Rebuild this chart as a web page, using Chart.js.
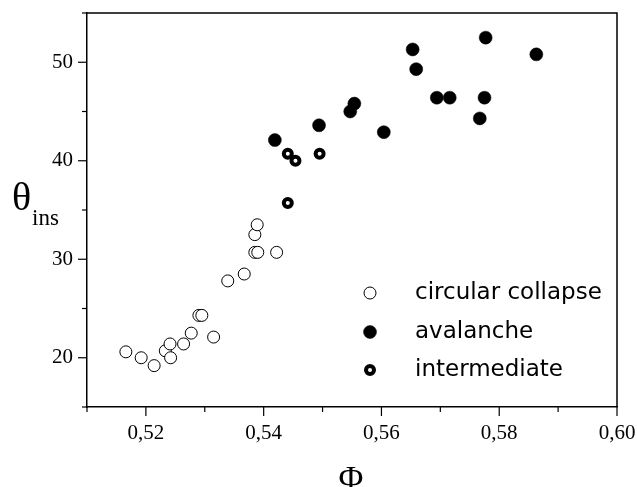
<!DOCTYPE html>
<html>
<head>
<meta charset="utf-8">
<script src="https://cdn.jsdelivr.net/npm/chart.js@4.4.1/dist/chart.umd.min.js"></script>
<style>
  html, body { margin: 0; padding: 0; background: #fff; }
  #wrap { width: 637px; height: 487px; }
</style>
</head>
<body>
<div id="wrap"><canvas id="chart" width="637" height="487"></canvas></div>
<script>
// circular collapse (open circles)
const collapsePhi = [0.5166, 0.5192, 0.5214, 0.5233, 0.5241, 0.5242, 0.5264, 0.5277, 0.5290,
    0.5295, 0.5315, 0.5339, 0.5367, 0.5385, 0.5389, 0.5385, 0.5390, 0.5422];
const collapseTheta = [20.6, 20.0, 19.2, 20.7, 21.4, 20.0, 21.4, 22.5, 24.3,
    24.3, 22.1, 27.8, 28.5, 32.5, 33.5, 30.7, 30.7, 30.7];

// avalanche (filled circles)
const avalanchePhi = [0.5419, 0.5494, 0.5547, 0.5554, 0.5604, 0.5653, 0.5659, 0.5694,
    0.5716, 0.5777, 0.5775, 0.5767, 0.5863];
const avalancheTheta = [42.1, 43.6, 45.0, 45.8, 42.9, 51.3, 49.3, 46.4,
    46.4, 52.5, 46.4, 44.3, 50.8];

// intermediate (thick rings)
const interPhi = [0.5441, 0.5454, 0.5441, 0.5495];
const interTheta = [40.7, 40.0, 35.7, 40.7];

const legendLabels = ['circular collapse', 'avalanche', 'intermediate'];
const xTickLabels = {'0.52': '0,52', '0.54': '0,54', '0.56': '0,56', '0.58': '0,58', '0.60': '0,60'};
const yTickLabels = {'20': '20', '30': '30', '40': '40', '50': '50'};

function toPoints(xs, ys) {
    return xs.map((x, i) => ({x: x, y: ys[i]}));
}

const frameAndLabels = {
    id: 'frameAndLabels',
    afterDraw(chart) {
        const ctx = chart.ctx;
        const a = chart.chartArea;
        const xs = chart.scales.x;
        const ys = chart.scales.y;
        ctx.save();
        ctx.strokeStyle = '#000';
        ctx.lineWidth = 1.5;
        // top & right frame
        ctx.beginPath();
        ctx.moveTo(a.left, a.top);
        ctx.lineTo(a.right, a.top);
        ctx.lineTo(a.right, a.bottom);
        ctx.stroke();

        // ticks, major and minor
        ctx.lineWidth = 1.2;
        for (let i = 0; i <= 9; i++) {
            const v = 0.51 + i * 0.01;
            const px = xs.getPixelForValue(v);
            const len = (i % 2 === 1) ? 9 : 5;
            ctx.beginPath();
            ctx.moveTo(px, a.bottom);
            ctx.lineTo(px, a.bottom + len);
            ctx.stroke();
        }
        for (let v = 15; v <= 55; v += 5) {
            const py = ys.getPixelForValue(v);
            const len = (v % 10 === 0) ? 9 : 5;
            ctx.beginPath();
            ctx.moveTo(a.left, py);
            ctx.lineTo(a.left - len, py);
            ctx.stroke();
        }

        // axis titles
        ctx.fillStyle = '#000';
        ctx.textBaseline = 'alphabetic';
        ctx.textAlign = 'center';
        ctx.font = '34px "Liberation Serif"';
        ctx.fillText('Φ', 351, 489);
        ctx.textAlign = 'left';
        ctx.font = '40px "Liberation Serif"';
        ctx.fillText('θ', 12, 210);
        ctx.font = '23px "Liberation Serif"';
        ctx.fillText('ins', 32, 225);

        // legend
        const rows = [293, 332, 370];
        chart.data.datasets.forEach((ds, i) => {
            const cy = rows[i];
            ctx.beginPath();
            ctx.arc(370, cy, ds.pointRadius, 0, Math.PI * 2);
            ctx.fillStyle = ds.pointBackgroundColor;
            ctx.fill();
            ctx.lineWidth = ds.pointBorderWidth;
            ctx.strokeStyle = '#000';
            ctx.stroke();
            ctx.fillStyle = '#000';
            ctx.font = '23px "DejaVu Sans"';
            ctx.textBaseline = 'middle';
            ctx.fillText(legendLabels[i], 415, cy);
        });
        ctx.restore();
    }
};

new Chart(document.getElementById('chart'), {
    type: 'scatter',
    data: {
        datasets: [{
            label: legendLabels[0],
            data: toPoints(collapsePhi, collapseTheta),
            pointRadius: 6,
            pointBorderWidth: 1,
            pointBackgroundColor: '#fff',
            pointBorderColor: '#000'
        }, {
            label: legendLabels[1],
            data: toPoints(avalanchePhi, avalancheTheta),
            pointRadius: 6.5,
            pointBorderWidth: 0.5,
            pointBackgroundColor: '#000',
            pointBorderColor: '#000'
        }, {
            label: legendLabels[2],
            data: toPoints(interPhi, interTheta),
            pointRadius: 4,
            pointBorderWidth: 4,
            pointBackgroundColor: '#fff',
            pointBorderColor: '#000'
        }]
    },
    options: {
        responsive: false,
        animation: false,
        layout: {padding: {top: 13, right: 20, left: 0, bottom: 0}},
        plugins: {legend: {display: false}, tooltip: {enabled: false}},
        scales: {
            x: {
                type: 'linear',
                min: 0.51,
                max: 0.60,
                grid: {display: false, drawTicks: false},
                border: {display: true, color: '#000', width: 1.5},
                afterFit: (s) => {
                    s.height = 80;
                    s.paddingLeft = 0;
                    s.paddingRight = 0;
                },
                afterBuildTicks: (s) => {
                    s.ticks = [];
                    for (let i = 0; i <= 9; i++) s.ticks.push({value: 0.51 + i * 0.01});
                },
                ticks: {
                    autoSkip: false,
                    maxRotation: 0,
                    padding: 14,
                    color: '#000',
                    font: {family: '"Liberation Serif"', size: 21},
                    callback: (v) => xTickLabels[Number(v).toFixed(2)] || ''
                }
            },
            y: {
                min: 15,
                max: 55,
                grid: {display: false, drawTicks: false},
                border: {display: true, color: '#000', width: 1.5},
                afterFit: (s) => {
                    s.width = 87;
                    s.paddingTop = 0;
                    s.paddingBottom = 0;
                },
                ticks: {
                    stepSize: 5,
                    padding: 14,
                    color: '#000',
                    font: {family: '"Liberation Serif"', size: 21},
                    callback: (v) => yTickLabels[String(v)] || ''
                }
            }
        }
    },
    plugins: [frameAndLabels]
});
</script>
</body>
</html>
